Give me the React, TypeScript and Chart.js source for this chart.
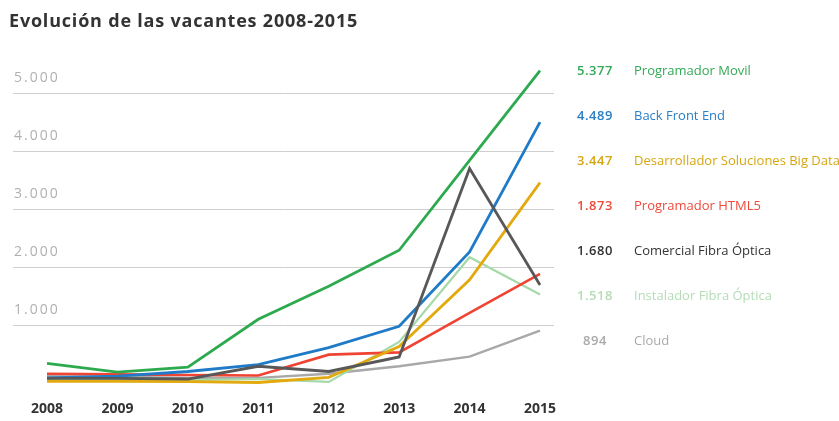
import React, { useEffect, useRef } from "react";
import { Chart, registerables } from "chart.js";

Chart.register(...registerables);

const title = "Evolución de las vacantes 2008-2015";
const years = ["2008", "2009", "2010", "2011", "2012", "2013", "2014", "2015"];
const yTickValues = [1000, 2000, 3000, 4000, 5000];
const yTickLabels = ["1.000", "2.000", "3.000", "4.000", "5.000"];

const seriesNames = [
  "Programador Movil",
  "Back Front End",
  "Desarrollador Soluciones Big Data",
  "Programador HTML5",
  "Comercial Fibra Óptica",
  "Instalador Fibra Óptica",
  "Cloud",
];
const legendValues = ["5.377", "4.489", "3.447", "1.873", "1.680", "1.518", "894"];

const movil = [330, 180, 265, 1090, 1660, 2280, 3830, 5377];
const backFront = [80, 110, 190, 310, 600, 970, 2250, 4489];
const bigData = [20, 20, 15, 0, 90, 620, 1770, 3447];
const html5 = [150, 140, 130, 120, 480, 520, 1200, 1873];
const comercialFibra = [70, 70, 60, 280, 190, 440, 3690, 1680];
const instaladorFibra = [50, 50, 40, 60, 10, 700, 2160, 1518];
const cloud = [110, 100, 80, 80, 150, 280, 445, 894];

const seriesData = [movil, backFront, bigData, html5, comercialFibra, instaladorFibra, cloud];
const lineColors = ["#2eaa4e", "#1f7bc8", "#e2aa0e", "#ef4433", "#585858", "#a6d9aa", "#a8a8a8"];
const textColors = ["#35a957", "#2a7fc6", "#d6a612", "#ef4a3c", "#333333", "#b4dcb6", "#aaaaaa"];
const lineWidths = [2.8, 2.8, 2.8, 2.6, 2.8, 2.2, 2.4];
const drawOrder = [2, 1, 3, 4, 0, 5, 6];

const FONT = "'Open Sans', 'DejaVu Sans', sans-serif";

function setSpacing(ctx: any, px: number) {
  if ("letterSpacing" in ctx) ctx.letterSpacing = `${px}px`;
}

const decorPlugin = {
  id: "decor",
  beforeDatasetsDraw(chart: any) {
    const ctx = chart.ctx;
    const y = chart.scales.y;
    ctx.save();
    ctx.strokeStyle = "#cfcfcf";
    ctx.lineWidth = 1;
    ctx.font = `14px ${FONT}`;
    setSpacing(ctx, 2);
    ctx.fillStyle = "#b0b0b0";
    ctx.textAlign = "left";
    ctx.textBaseline = "middle";
    yTickValues.forEach((v, i) => {
      const py = Math.round(y.getPixelForValue(v)) + 0.5;
      ctx.beginPath();
      ctx.moveTo(13, py);
      ctx.lineTo(554, py);
      ctx.stroke();
      ctx.fillText(yTickLabels[i], 14, py - 15);
    });
    ctx.restore();
  },
  afterDraw(chart: any) {
    const ctx = chart.ctx;
    ctx.save();
    ctx.font = `bold 18px ${FONT}`;
    setSpacing(ctx, 0.8);
    ctx.fillStyle = "#333333";
    ctx.textAlign = "left";
    ctx.textBaseline = "middle";
    ctx.fillText(title, 9, 22);

    seriesNames.forEach((name, i) => {
      const py = 71.5 + i * 45;
      ctx.fillStyle = textColors[i];
      ctx.font = `600 13px ${FONT}`;
      setSpacing(ctx, 0.5);
      ctx.textAlign = "center";
      ctx.fillText(legendValues[i], 595, py);
      ctx.font = `500 13px ${FONT}`;
      setSpacing(ctx, 0);
      ctx.textAlign = "left";
      ctx.fillText(name, 634, py);
    });
    ctx.restore();
  },
};

export default function App() {
  const canvasRef = useRef<HTMLCanvasElement | null>(null);

  useEffect(() => {
    if (!canvasRef.current) return;
    const chart = new Chart(canvasRef.current, {
      type: "line",
      data: {
        labels: years,
        datasets: seriesNames.map((name, i) => ({
          label: name,
          data: seriesData[i],
          borderColor: lineColors[i],
          backgroundColor: lineColors[i],
          borderWidth: lineWidths[i],
          pointRadius: 0,
          tension: 0,
          fill: false,
          order: drawOrder[i],
        })),
      },
      options: {
        animation: false,
        responsive: true,
        maintainAspectRatio: false,
        layout: { padding: { left: 47, right: 299, top: 63.5, bottom: 0 } },
        plugins: {
          legend: { display: false },
          title: { display: false },
          tooltip: { enabled: false },
        },
        scales: {
          x: {
            type: "category",
            offset: false,
            grid: { display: false, drawTicks: false },
            border: { display: false },
            ticks: {
              color: "#333333",
              font: { family: FONT, size: 14, weight: "bold" },
              padding: 7,
              maxRotation: 0,
              autoSkip: false,
            },
            afterFit: (s: any) => {
              s.height = 26.9;
            },
          },
          y: {
            display: false,
            min: -200,
            max: 5500,
          },
        },
      },
      plugins: [decorPlugin],
    });
    return () => chart.destroy();
  }, []);

  return (
    <div
      style={{
        position: "fixed",
        left: 0,
        top: 0,
        width: 839,
        height: 421,
        background: "#ffffff",
      }}
    >
      <canvas ref={canvasRef} />
    </div>
  );
}
